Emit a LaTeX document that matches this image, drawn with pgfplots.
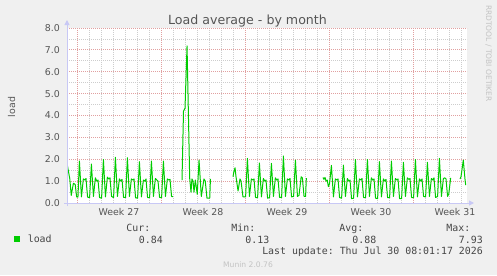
\documentclass[border=0pt]{standalone}
\usepackage{fontspec}
\setmainfont{DejaVu Sans}
\setmonofont{DejaVu Sans Mono}
\usepackage{pgfplots}
\pgfplotsset{compat=1.18}
\usetikzlibrary{arrows.meta}
\definecolor{loadgreen}{RGB}{0,204,0}
\definecolor{bggray}{RGB}{240,240,240}
\definecolor{mingrid}{RGB}{205,205,205}
\definecolor{majgrid}{RGB}{225,160,160}
\definecolor{axcol}{RGB}{200,200,245}
\definecolor{txtgray}{RGB}{85,85,85}
\definecolor{legtext}{RGB}{70,70,70}
\definecolor{faint}{RGB}{195,195,195}
\tikzset{loadline/.style={draw=loadgreen, line width=1bp, line join=round, mark=none}}
\begin{document}
\begin{tikzpicture}[x=1bp,y=1bp]
\fill[bggray] (0,0) rectangle (497,275);
\useasboundingbox (0,0) rectangle (497,275);
\begin{axis}[
  at={(67bp,72bp)}, anchor=south west,
  scale only axis, width=400bp, height=175bp,
  xmin=-0.8333, xmax=32.5, ymin=0, ymax=8,
  axis line style={draw=none},
  axis background/.style={fill=white},
  xtick={3.5,10.5,17.5,24.5,31.5},
  xticklabels={Week 27,Week 28,Week 29,Week 30,Week 31},
  minor xtick={1,2,3,4,5,6,8,9,10,11,12,13,15,16,17,18,19,20,22,23,24,25,26,27,29,30,31,32},
  extra x ticks={0,7,14,21,28},
  extra x tick labels={},
  extra x tick style={xmajorgrids=true, major grid style={majgrid, dash pattern=on 1bp off 1bp, line width=0.8bp}},
  ytick={0,1,2,3,4,5,6,7,8},
  yticklabels={0.0,1.0,2.0,3.0,4.0,5.0,6.0,7.0,8.0},
  minor ytick={0.5,1.5,2.5,3.5,4.5,5.5,6.5,7.5},
  xmajorgrids=false, ymajorgrids=true, xminorgrids=true, yminorgrids=true,
  major grid style={majgrid, dash pattern=on 1bp off 1bp, line width=0.8bp},
  minor grid style={mingrid, dash pattern=on 1bp off 1bp, line width=0.8bp},
  major tick length=0pt, minor tick length=0pt,
  tick label style={font=\fontsize{9.4bp}{11bp}\selectfont, text=txtgray},
  yticklabel style={anchor=east, inner sep=0pt, xshift=-7bp},
  xticklabel style={anchor=north, inner sep=0pt, yshift=-5bp},
  legend style={at={(axis description cs:-0.1325,-0.2057)}, anchor=west, draw=none, fill=none,
    inner sep=0pt, outer sep=0pt, nodes={inner sep=0pt}, column sep=7.5bp,
    font=\ttfamily\fontsize{9.9bp}{12bp}\selectfont, text=legtext},
  legend image code/.code={\fill[loadgreen] (0bp,-2.65bp) rectangle (5.3bp,2.65bp);},
]
\addplot[loadline] coordinates {
(-0.83,1.81) (-0.6,1.1) (-0.48,0.35) (-0.3,0.9) (-0.15,0.85) (-0.03,0.28) (0.08,0.27) (0.2,1.92)
(0.37,0.28) (0.53,1.1) (0.65,1.05) (0.75,1.12) (0.88,0.27) (1.05,0.25) (1.2,1.78)
(1.37,0.3) (1.53,1.15) (1.65,1.0) (1.75,1.05) (1.88,0.25) (2.05,0.22) (2.2,1.99)
(2.37,0.28) (2.53,1.18) (2.65,1.1) (2.75,1.15) (2.88,0.3) (3.05,0.25) (3.2,2.09)
(3.37,0.3) (3.53,1.1) (3.65,1.0) (3.75,1.08) (3.88,0.26) (4.05,0.25) (4.2,2.07)
(4.37,0.3) (4.53,1.1) (4.65,1.05) (4.75,1.1) (4.88,0.24) (5.05,0.22) (5.2,1.89)
(5.37,0.28) (5.53,1.05) (5.65,1.0) (5.75,1.1) (5.88,0.25) (6.05,0.25) (6.2,1.92)
(6.37,0.3) (6.53,1.12) (6.65,1.05) (6.75,1.0) (6.88,0.26) (7.05,0.24) (7.2,1.92)
(7.37,0.3) (7.53,1.1) (7.65,1.05) (7.75,1.08) (7.88,0.3) (8.0,0.29)
};
\addlegendentry{load}
\addplot[loadline] coordinates {
(8.75,1.05) (8.875,4.2) (9.0,4.33) (9.17,7.18) (9.39,1.14) (9.5,0.5) (9.58,1.1) (9.67,1.0)
(9.75,0.5) (9.86,1.05) (10.02,0.4) (10.17,1.96) (10.36,0.3) (10.58,1.1) (10.69,1.0)
(10.83,0.22) (11.06,0.22) (11.12,1.1)
};
\addplot[loadline] coordinates {
(13.0,1.2) (13.08,1.45) (13.17,1.61) (13.25,1.2) (13.33,0.9) (13.42,0.55) (13.58,1.1) (13.67,1.0) (13.83,0.28) (14.05,0.28) (14.2,2.04)
(14.37,0.3) (14.53,1.1) (14.65,1.05) (14.75,1.1) (14.88,0.25) (15.05,0.25) (15.2,1.83)
(15.37,0.28) (15.53,1.12) (15.65,1.0) (15.75,1.05) (15.88,0.22) (16.05,0.25) (16.2,1.81)
(16.37,0.3) (16.53,1.15) (16.65,1.05) (16.75,1.1) (16.88,0.26) (17.05,0.25) (17.2,2.15)
(17.37,0.3) (17.53,1.1) (17.65,1.05) (17.75,1.12) (17.88,0.28) (18.05,0.3) (18.2,1.96)
(18.37,0.3) (18.5,0.35) (18.68,1.2) (18.78,1.15) (18.92,0.3) (19.05,0.3) (19.11,1.14)
};
\addplot[loadline] coordinates {
(20.5,1.17) (20.58,1.08) (20.67,1.17) (20.75,1.0) (20.85,1.05) (20.95,0.75) (21.05,0.9) (21.2,1.72)
(21.37,0.28) (21.53,1.1) (21.65,1.05) (21.75,1.1) (21.88,0.25) (22.05,0.22) (22.2,1.73)
(22.37,0.3) (22.53,1.12) (22.65,1.0) (22.75,1.05) (22.88,0.2) (23.05,0.22) (23.2,1.99)
(23.37,0.28) (23.53,1.1) (23.65,1.05) (23.75,1.12) (23.88,0.25) (24.05,0.25) (24.2,1.99)
(24.37,0.3) (24.53,1.15) (24.65,1.05) (24.75,1.1) (24.88,0.22) (25.05,0.2) (25.2,1.89)
(25.37,0.28) (25.53,1.1) (25.65,1.0) (25.75,1.08) (25.88,0.25) (26.05,0.24) (26.2,1.92)
(26.37,0.3) (26.53,1.12) (26.65,1.05) (26.75,1.1) (26.88,0.2) (27.05,0.2) (27.2,1.86)
(27.37,0.3) (27.53,1.15) (27.65,1.08) (27.75,1.12) (27.88,0.25) (28.05,0.25) (28.2,1.99)
(28.37,0.28) (28.53,1.1) (28.65,1.0) (28.75,1.1) (28.88,0.3) (29.05,0.28) (29.2,1.86)
(29.37,0.3) (29.53,1.12) (29.65,1.05) (29.75,1.15) (29.88,0.25) (30.05,0.3) (30.2,2.04)
(30.37,0.3) (30.53,1.12) (30.65,1.15) (30.75,1.1) (30.88,0.3) (30.98,0.42) (31.14,1.15)
};
\addplot[loadline] coordinates {
(31.92,1.1) (32.0,1.2) (32.19,1.96) (32.33,1.1) (32.39,0.82)
};
\end{axis}
\draw[axcol, line width=1bp, -{Triangle[length=5bp,width=5bp]}] (67,69) -- (67,255);
\draw[axcol, line width=1bp, -{Triangle[length=5bp,width=5bp]}] (64,72) -- (474,72);
\node[anchor=base, inner sep=0pt, font=\fontsize{12.6bp}{15bp}\selectfont, text=txtgray] at (247.5,251) {Load average - by month};
\node[rotate=90, anchor=base, inner sep=0pt, font=\fontsize{9.4bp}{11bp}\selectfont, text=txtgray] at (15,168) {load};
\node[rotate=-90, anchor=base, inner sep=0pt, font=\fontsize{7.5bp}{9bp}\selectfont, text=faint] at (486,221.5) {RRDTOOL / TOBI OETIKER};
\begin{scope}[every node/.style={anchor=base east, inner sep=0pt, font=\ttfamily\fontsize{9.9bp}{12bp}\selectfont, text=legtext}]
\node at (150.5,43.5) {Cur:};
\node at (163,31.8) {0.84};
\node at (255.5,43.5) {Min:};
\node at (269.5,31.8) {0.13};
\node at (363.5,43.5) {Avg:};
\node at (376.5,31.8) {0.88};
\node at (470.5,43.5) {Max:};
\node at (483,31.8) {7.93};
\node at (483,20.1) {Last update: Thu Jul 30 08:01:17 2026};
\end{scope}
\node[anchor=base, inner sep=0pt, font=\fontsize{7.6bp}{9bp}\selectfont, text=faint] at (248,7.8) {Munin 2.0.76};
\end{tikzpicture}
\end{document}
